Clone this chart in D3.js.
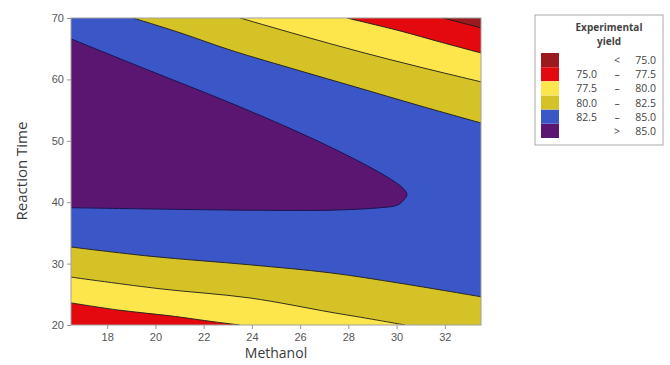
<!DOCTYPE html>
<html>
<head>
<meta charset="utf-8">
<script src="https://cdn.jsdelivr.net/npm/d3@7"></script>
<style>
  body { margin: 0; background: #fff; }
  svg { display: block; font-family: "Open Sans", "DejaVu Sans", sans-serif; }
</style>
</head>
<body>
<svg width="670" height="365"></svg>
<script>
// contour levels and legend
var levels = [75, 77.5, 80, 82.5, 85];
var bandColors = ["#9a1a1e", "#e3090f", "#fde64b", "#d5c226", "#3b56c7", "#5a1670"];
var bandLow = ["", "75.0", "77.5", "80.0", "82.5", ""];
var bandSep = ["<", "\u2013", "\u2013", "\u2013", "\u2013", ">"];
var bandHigh = ["75.0", "77.5", "80.0", "82.5", "85.0", "85.0"];

var xTicks = [18, 20, 22, 24, 26, 28, 30, 32];
var yTicks = [20, 30, 40, 50, 60, 70];

// contour lines, [methanol, reaction time]
var upper825 = [[19.07, 70], [21.02, 67.6], [23.09, 64.8], [25.99, 61.4], [28.27, 58.8], [30.97, 55.7], [33.5, 52.9]];
var upper80 = [[23.51, 70], [25.99, 67.2], [28.48, 64.5], [30.97, 62.0], [33.5, 59.6]];
var upper775 = [[27.94, 70], [30.14, 67.9], [31.8, 66.1], [33.5, 64.3]];
var upper75 = [[31.92, 70], [33.5, 68.4]];
var lower825 = [[16.5, 32.7], [19.78, 31.2], [23.92, 29.8], [27.24, 28.5], [30.14, 26.8], [33.5, 24.6]];
var lower80 = [[16.5, 27.8], [20.19, 25.9], [23.92, 24.4], [27.24, 22.1], [28.9, 21.0], [30.35, 20]];
var lower775 = [[16.5, 23.6], [18.53, 22.4], [20.6, 21.5], [22.47, 20.5], [23.5, 20]];
var ridge85 = [[16.5, 66.6], [19.78, 61.4], [23.09, 56.2], [25.99, 51.3], [28.07, 47.4], [29.31, 44.8],
  [29.93, 43.3], [30.26, 42.3], [30.43, 41.3], [30.31, 40.4], [30.02, 39.5], [29.31, 39.1],
  [27.24, 38.7], [23.92, 38.7], [19.78, 38.9], [16.5, 39.1]];

var svg = d3.select("svg");
var pLeft = 71, pRight = 481, pTop = 18, pBottom = 325;

var x = d3.scaleLinear().domain([16.5, 33.5]).range([pLeft, pRight]);
var y = d3.scaleLinear().domain([20, 70]).range([pBottom, pTop]);

var line = d3.line().curve(d3.curveCatmullRom.alpha(0.5))
  .x(function(d) { return x(d[0]); }).y(function(d) { return y(d[1]); });

// contour line closed off with straight runs along the frame
function region(pts, corners) {
  return line(pts) + corners.map(function(c) { return "L" + x(c[0]) + "," + y(c[1]); }).join("") + "Z";
}

svg.append("clipPath").attr("id", "plot")
  .append("rect").attr("x", pLeft).attr("y", pTop).attr("width", pRight - pLeft).attr("height", pBottom - pTop);

var g = svg.append("g").attr("clip-path", "url(#plot)");

// base band 82.5 - 85
g.append("rect").attr("x", pLeft).attr("y", pTop).attr("width", pRight - pLeft).attr("height", pBottom - pTop)
  .attr("fill", bandColors[4]);

// bands above / below the contours, from outside in
var uppers = [[upper825, 3], [upper80, 2], [upper775, 1], [upper75, 0]];
uppers.forEach(function(u) {
  g.append("path").attr("d", region(u[0], [[33.5, 70]])).attr("fill", bandColors[u[1]]);
});
var lowers = [[lower825, 3], [lower80, 2], [lower775, 1]];
lowers.forEach(function(u) {
  g.append("path").attr("d", region(u[0], [[33.5, 20], [16.5, 20]])).attr("fill", bandColors[u[1]]);
});
g.append("path").attr("d", region(ridge85, [])).attr("fill", bandColors[5]);

// contour lines
[upper825, upper80, upper775, upper75, lower825, lower80, lower775].forEach(function(pts) {
  g.append("path").attr("d", line(pts)).attr("fill", "none").attr("stroke", "#1c1c1c").attr("stroke-width", 0.9);
});
g.append("path").attr("d", line(ridge85)).attr("fill", "none").attr("stroke", "#1b1450").attr("stroke-width", 1);

// frame
svg.append("rect").attr("x", pLeft).attr("y", pTop).attr("width", pRight - pLeft).attr("height", pBottom - pTop)
  .attr("fill", "none").attr("stroke", "#a0a0a0").attr("stroke-width", 1);

// axes
var xAxis = svg.append("g").attr("transform", "translate(0," + pBottom + ")")
  .call(d3.axisBottom(x).tickValues(xTicks).tickSize(4).tickPadding(4));
var yAxis = svg.append("g").attr("transform", "translate(" + pLeft + ",0)")
  .call(d3.axisLeft(y).tickValues(yTicks).tickSize(4).tickPadding(3));
[xAxis, yAxis].forEach(function(a) {
  a.select(".domain").remove();
  a.selectAll("line").attr("stroke", "#999");
  a.selectAll("text").attr("fill", "#555").style("font-size", "11px");
});

svg.append("text").attr("x", 276).attr("y", 358).attr("text-anchor", "middle")
  .attr("fill", "#3a3a3a").style("font-size", "14px").text("Methanol");
svg.append("text").attr("transform", "translate(27,171) rotate(-90)").attr("text-anchor", "middle")
  .attr("fill", "#3a3a3a").style("font-size", "15px").text("Reaction Time");

// legend
var lg = svg.append("g");
lg.append("rect").attr("x", 535).attr("y", 15).attr("width", 128).attr("height", 130)
  .attr("fill", "#fff").attr("stroke", "#aaa").attr("stroke-width", 1);
lg.append("text").attr("x", 609).attr("y", 31).attr("text-anchor", "middle")
  .attr("fill", "#444").style("font-size", "10px").style("font-weight", "bold").text("Experimental");
lg.append("text").attr("x", 609).attr("y", 45).attr("text-anchor", "middle")
  .attr("fill", "#444").style("font-size", "10px").style("font-weight", "bold").text("yield");

var rows = lg.selectAll("g.row").data(bandColors).enter().append("g")
  .attr("transform", function(d, i) { return "translate(0," + (60 + i * 14.2) + ")"; });
rows.append("rect").attr("x", 541).attr("y", -7).attr("width", 18).attr("height", 14)
  .attr("fill", function(d) { return d; });
rows.append("text").attr("x", 597).attr("y", 4).attr("text-anchor", "end")
  .attr("fill", "#444").style("font-size", "10.5px").text(function(d, i) { return bandLow[i]; });
rows.append("text").attr("x", 617).attr("y", 4).attr("text-anchor", "middle")
  .attr("fill", "#444").style("font-size", "10.5px").text(function(d, i) { return bandSep[i]; });
rows.append("text").attr("x", 656).attr("y", 4).attr("text-anchor", "end")
  .attr("fill", "#444").style("font-size", "10.5px").text(function(d, i) { return bandHigh[i]; });
</script>
</body>
</html>
